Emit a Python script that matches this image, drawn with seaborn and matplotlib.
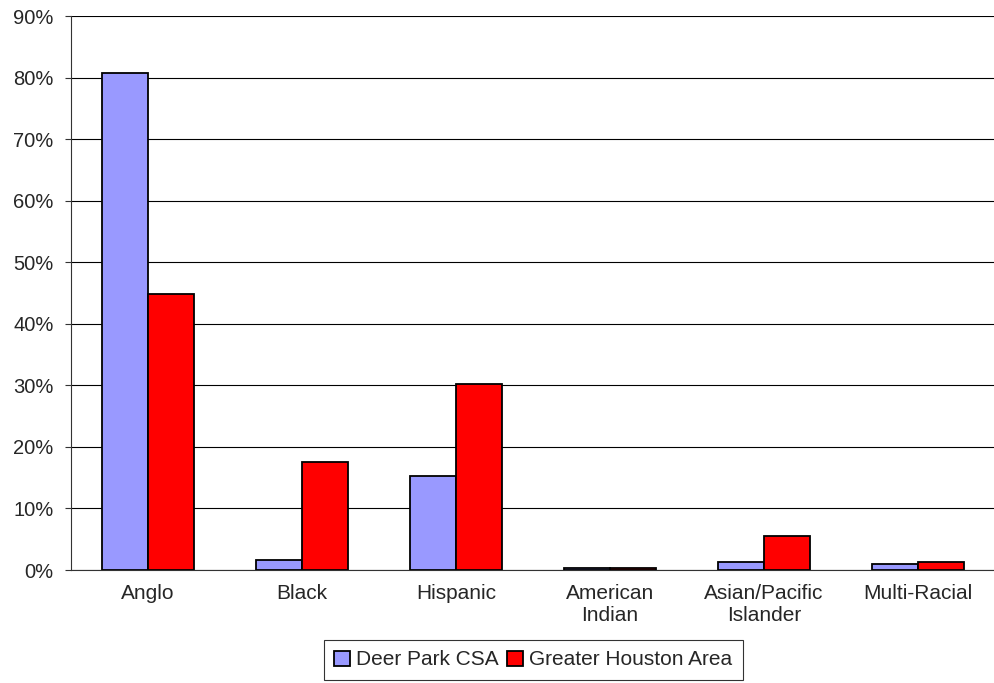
import numpy as np
import pandas as pd
import seaborn as sns
import matplotlib.pyplot as plt
from matplotlib.ticker import FixedLocator, PercentFormatter

categories = ["Anglo", "Black", "Hispanic", "American\nIndian", "Asian/Pacific\nIslander", "Multi-Racial"]
deer_park = [80.8, 1.6, 15.3, 0.3, 1.3, 1.0]
houston = [44.8, 17.5, 30.2, 0.3, 5.5, 1.3]
series = ["Deer Park CSA", "Greater Houston Area"]
colors = ["#9999FF", "#FF0000"]

df = pd.DataFrame({
    "cat": categories * 2,
    "val": deer_park + houston,
    "area": [series[0]] * len(categories) + [series[1]] * len(categories),
})

sns.set_style("white")
plt.rcParams['font.family'] = ['Liberation Sans', 'DejaVu Sans']

fig = plt.figure(figsize=(9.95, 6.83), dpi=100)
ax = fig.add_axes([71 / 995, 1 - 570 / 683, 1 - 71 / 995, (570 - 16) / 683])

sns.barplot(data=df, x="cat", y="val", hue="area", ax=ax, width=0.6,
            palette=colors, saturation=1, edgecolor="black", linewidth=1.3,
            legend=False)

ax.set_ylim(0, 90)
ax.set_xlim(-0.5, len(categories) - 0.5)
ax.set_yticks(np.arange(0, 91, 10))
ax.yaxis.set_major_formatter(PercentFormatter(decimals=0))
ax.yaxis.grid(True, color="black", linewidth=0.8)
ax.set_axisbelow(True)

# labels at centres, ticks at the category boundaries
ax.set_xticks(np.arange(len(categories)))
ax.set_xticklabels(categories, linespacing=1.2, fontsize=15)
ax.tick_params(axis="x", which="major", length=0, pad=10)
ax.xaxis.set_minor_locator(FixedLocator(np.arange(0.5, len(categories) - 0.5, 1)))
ax.tick_params(axis="x", which="minor", length=4.5, width=0.8, color="#333333")
ax.tick_params(axis="y", length=4.5, width=0.8, color="#333333", pad=8, left=True,
               labelsize=14.5)
ax.set_xlabel("")
ax.set_ylabel("")

for s in ["top", "right"]:
    ax.spines[s].set_visible(False)
ax.spines["left"].set_color("#333333")
ax.spines["bottom"].set_color("#333333")

handles = [plt.Rectangle((0, 0), 1, 1, facecolor=c, edgecolor="black", linewidth=1.3)
           for c in colors]
leg = fig.legend(handles, series, loc="upper center", bbox_to_anchor=(0.536, 1 - 640 / 683),
                 ncol=2, fontsize=15, frameon=True, fancybox=False, handlelength=0.75,
                 handleheight=0.75, handletextpad=0.3, columnspacing=0.4,
                 borderpad=0.5, borderaxespad=0)
leg.get_frame().set_edgecolor("black")
leg.get_frame().set_linewidth(0.8)

fig.savefig("out.png", dpi=100)
